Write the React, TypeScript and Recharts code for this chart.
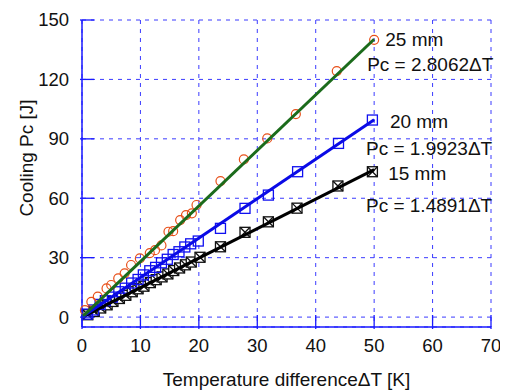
import {
  ScatterChart, Scatter, XAxis, YAxis, CartesianGrid, ReferenceDot,
} from 'recharts';

// 25 mm samples
const dT25 = [0.5, 1.6, 2.7, 4.2, 5.0, 6.2, 7.3, 8.4, 9.9, 11.6, 12.5, 13.6, 14.8, 15.6, 16.8, 17.8, 18.8, 19.6, 23.7, 27.7, 31.7, 36.6, 43.6, 50.0];
const pc25 = [3.5, 7.7, 10.3, 14.5, 16.2, 19.5, 22.1, 26.3, 29.6, 32.3, 33.8, 36.2, 43.1, 43.4, 49.0, 51.5, 52.4, 56.6, 68.7, 79.6, 90.2, 102.5, 124.2, 140.0];
// 20 mm samples
const dT20 = [0.9, 2.0, 3.1, 4.0, 5.2, 6.3, 7.4, 8.5, 9.6, 10.5, 11.6, 12.6, 13.6, 14.6, 15.6, 16.6, 17.6, 18.6, 19.9, 23.7, 27.9, 31.9, 36.9, 43.9, 49.7];
const pc20 = [1.5, 3.6, 6.4, 8.3, 10.1, 12.8, 14.6, 17.2, 19.0, 21.3, 23.4, 25.1, 27.4, 29.2, 31.6, 33.0, 35.4, 37.0, 38.4, 44.8, 54.9, 61.6, 73.4, 87.7, 99.5];
// 15 mm samples
const dT15 = [1.0, 2.1, 3.2, 4.3, 5.3, 6.4, 7.5, 8.6, 9.6, 10.6, 11.7, 12.7, 13.7, 14.7, 15.7, 16.7, 17.7, 18.7, 20.2, 23.7, 27.9, 31.9, 36.8, 43.8, 49.7];
const pc15 = [1.2, 2.8, 4.6, 6.2, 7.9, 9.4, 11.0, 12.8, 14.3, 15.6, 17.4, 18.9, 20.3, 21.8, 23.5, 24.8, 26.4, 27.8, 30.2, 35.5, 42.8, 48.1, 55.0, 66.2, 73.4];

// fitted lines Pc = k * dT
const fitX = [0, 50];
const fit25 = [0, 140.3];
const fit20 = [0, 99.6];
const fit15 = [0, 74.5];

const xTicks = [0, 10, 20, 30, 40, 50, 60, 70];
const yTicks = [0, 30, 60, 90, 120, 150];

const zip = (xs: number[], ys: number[]) => xs.map((x, i) => ({ x, y: ys[i] }));

const FONT = 'Liberation Sans, Arial, sans-serif';
const FRAME = '#1a1aff';
const FS = 19;

const Circle = ({ cx, cy }: any) => (
  <circle cx={cx} cy={cy} r={4.5} fill="none" stroke="#e8501a" strokeWidth={1.2} />
);
const Square = ({ cx, cy }: any) => (
  <rect x={cx - 5} y={cy - 5} width={10} height={10} fill="none" stroke="#1010f0" strokeWidth={1.3} />
);
const CrossSquare = ({ cx, cy }: any) => (
  <g stroke="#111" strokeWidth={1.3} fill="none">
    <rect x={cx - 5} y={cy - 5} width={10} height={10} fill="#fff" />
    <line x1={cx - 5} y1={cy - 5} x2={cx + 5} y2={cy + 5} />
    <line x1={cx + 5} y1={cy - 5} x2={cx - 5} y2={cy + 5} />
  </g>
);
const NoDot = () => <g />;

const LeftTick = ({ x, y, payload }: any) => (
  <g>
    <line x1={x} y1={y} x2={x + 14} y2={y} stroke={FRAME} strokeWidth={1.3} />
    <text x={x - 11} y={y} dy="0.35em" textAnchor="end" fontSize={18.5} fontFamily={FONT} fill="#111">
      {payload.value}
    </text>
  </g>
);
const RightTick = ({ x, y }: any) => (
  <line x1={x} y1={y} x2={x - 14} y2={y} stroke={FRAME} strokeWidth={1.3} />
);
const BottomTick = ({ x, y, payload }: any) => (
  <g>
    <line x1={x} y1={y} x2={x} y2={y - 14} stroke={FRAME} strokeWidth={1.3} />
    <text x={x} y={y + 10} dy="0.71em" textAnchor="middle" fontSize={18.5} fontFamily={FONT} fill="#111">
      {payload.value}
    </text>
  </g>
);
const TopTick = ({ x, y }: any) => (
  <line x1={x} y1={y} x2={x} y2={y + 14} stroke={FRAME} strokeWidth={1.3} />
);

const note = (text: string) => ({ viewBox }: any) => (
  <text x={viewBox.x} y={viewBox.y} dy="0.35em" fontSize={FS} fontFamily={FONT} fill="#111">
    {text}
  </text>
);

export default function App() {
  return (
    <ScatterChart width={500} height={382} margin={{ top: 12, right: 17, bottom: 0, left: 0 }}>
      <CartesianGrid stroke="#3b3bff" strokeDasharray="4 5" />
      <XAxis
        type="number" dataKey="x" domain={[0, 70]} ticks={xTicks} height={63}
        tickSize={0} tickLine={false} tick={<BottomTick />}
        axisLine={{ stroke: FRAME, strokeWidth: 1.5 }}
        label={{ value: 'Temperature differenceΔT [K]', position: 'insideBottom', offset: 4, fontSize: FS, fontFamily: FONT, fill: '#111' }}
      />
      <XAxis
        xAxisId="top" orientation="top" type="number" dataKey="x" domain={[0, 70]} ticks={xTicks} height={0}
        tickSize={0} tickLine={false} tick={<TopTick />}
        axisLine={{ stroke: FRAME, strokeWidth: 1.5 }}
      />
      <YAxis
        type="number" dataKey="y" domain={[-5, 150]} ticks={yTicks} width={74}
        tickSize={0} tickLine={false} tick={<LeftTick />}
        axisLine={{ stroke: FRAME, strokeWidth: 1.5 }}
        label={() => (
          <text x={18} y={150} transform="rotate(-90 18 150)" textAnchor="middle" dominantBaseline="central" fontSize={FS} fontFamily={FONT} fill="#111">
            Cooling Pc [J]
          </text>
        )}
      />
      <YAxis
        yAxisId="right" orientation="right" type="number" dataKey="y" domain={[-5, 150]} ticks={yTicks} width={0}
        tickSize={0} tickLine={false} tick={<RightTick />}
        axisLine={{ stroke: FRAME, strokeWidth: 1.5 }}
      />

      <Scatter data={zip(dT15, pc15)} shape={<CrossSquare />} isAnimationActive={false} />
      <Scatter data={zip(dT20, pc20)} shape={<Square />} isAnimationActive={false} />
      <Scatter data={zip(dT25, pc25)} shape={<Circle />} isAnimationActive={false} />

      <Scatter data={zip(fitX, fit15)} shape={<NoDot />} line={{ stroke: '#000', strokeWidth: 3 }} isAnimationActive={false} />
      <Scatter data={zip(fitX, fit20)} shape={<NoDot />} line={{ stroke: '#0a0ae6', strokeWidth: 3 }} isAnimationActive={false} />
      <Scatter data={zip(fitX, fit25)} shape={<NoDot />} line={{ stroke: '#1b6b1b', strokeWidth: 3 }} isAnimationActive={false} />

      <ReferenceDot x={51.9} y={140} r={0} label={note('25 mm')} />
      <ReferenceDot x={48.8} y={127.8} r={0} label={note('Pc = 2.8062ΔT')} />
      <ReferenceDot x={52.7} y={99} r={0} label={note('20 mm')} />
      <ReferenceDot x={48.6} y={85.4} r={0} label={note('Pc = 1.9923ΔT')} />
      <ReferenceDot x={52.4} y={72.7} r={0} label={note('15 mm')} />
      <ReferenceDot x={48.6} y={56.6} r={0} label={note('Pc = 1.4891ΔT')} />
    </ScatterChart>
  );
}
